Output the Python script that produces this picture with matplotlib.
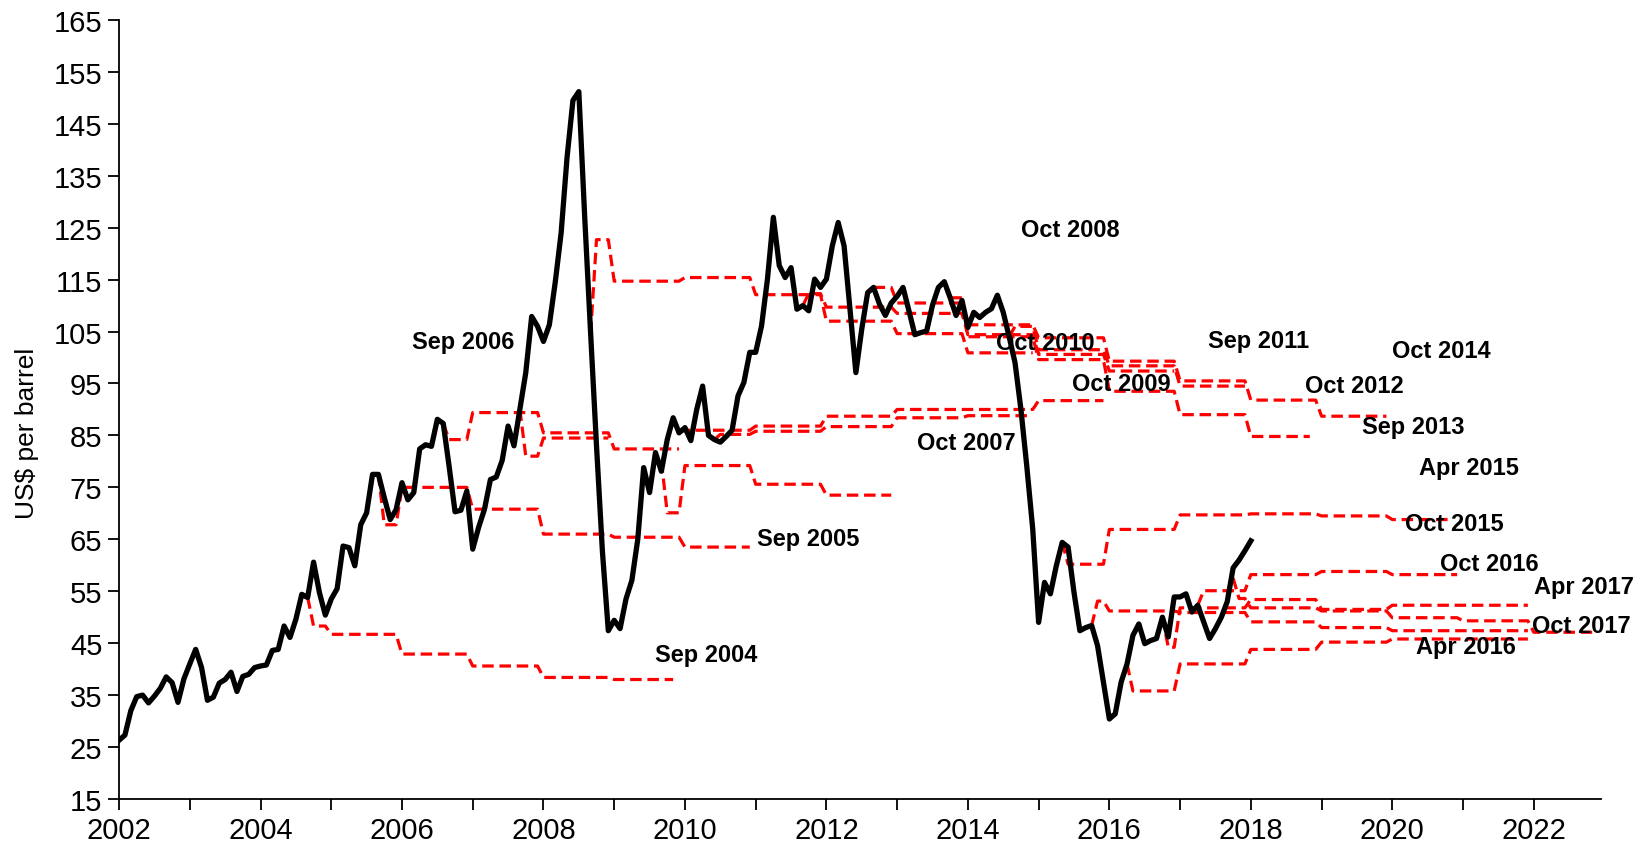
import matplotlib
matplotlib.use("Agg")
import matplotlib.pyplot as plt
import numpy as np

plt.rcParams['font.family'] = ['Liberation Sans', 'DejaVu Sans']

# monthly price, Jan 2002 .. Jan 2018 (US$ per barrel)
price = [
    26.3, 27.3, 32.0, 34.7, 35.0, 33.5, 34.8, 36.3, 38.5, 37.4, 33.6, 38.1,   # 2002
    41.0, 43.8, 40.3, 34.0, 34.6, 37.3, 38.0, 39.4, 35.7, 38.6, 39.0, 40.3,   # 2003
    40.6, 40.8, 43.6, 43.8, 48.3, 46.1, 49.6, 54.4, 53.8, 60.6, 54.7, 50.4,   # 2004
    53.5, 55.5, 63.7, 63.4, 59.9, 67.8, 70.1, 77.5, 77.5, 73.0, 68.8, 70.7,   # 2005
    75.9, 72.6, 74.0, 82.4, 83.2, 82.9, 88.1, 87.3, 79.0, 70.3, 70.6, 74.3,   # 2006
    63.1, 67.3, 70.8, 76.5, 77.0, 80.2, 86.8, 83.0, 90.0, 97.1, 107.9, 106.0, # 2007
    103.1, 106.3, 114.5, 124.0, 138.5, 149.5, 151.2, 127.0, 104.7, 83.0, 62.7, 47.4,  # 2008
    49.4, 47.8, 53.5, 57.1, 65.0, 78.8, 74.0, 81.7, 78.1, 84.2, 88.4, 85.5,   # 2009
    86.5, 84.0, 90.0, 94.5, 85.0, 84.2, 83.7, 84.8, 86.0, 92.6, 95.2, 101.0,  # 2010
    101.0, 106.1, 115.1, 127.0, 117.7, 115.4, 117.3, 109.3, 110.0, 109.0, 115.1, 113.5,  # 2011
    115.1, 121.5, 126.0, 121.5, 109.3, 97.1, 105.5, 112.5, 113.5, 110.3, 108.1, 110.5,  # 2012
    111.8, 113.5, 109.0, 104.4, 104.8, 105.1, 110.1, 113.5, 114.6, 111.5, 108.1, 111.0,  # 2013
    105.8, 108.7, 107.7, 108.7, 109.4, 112.0, 108.7, 104.0, 99.0, 90.0, 79.0, 67.0,    # 2014
    49.0, 56.7, 54.5, 59.9, 64.4, 63.5, 54.8, 47.4, 48.0, 48.4, 44.5, 37.5,   # 2015
    30.4, 31.4, 37.5, 41.0, 46.5, 48.7, 44.9, 45.5, 45.9, 50.0, 46.2, 53.9,   # 2016
    53.9, 54.5, 51.0, 52.3, 49.1, 45.9, 47.8, 50.0, 53.0, 59.5, 61.0, 62.8,   # 2017
    64.7,                                                                     # 2018
]

# futures curves: start month, [spot, rest of start year, then one value per year], end month
curve_start = ["2004-09", "2005-09", "2006-08", "2007-09", "2008-09", "2009-09",
               "2009-12", "2010-06", "2011-09", "2012-09", "2013-09", "2014-08",
               "2015-05", "2015-10", "2016-04", "2016-10", "2017-04", "2017-10"]
curve_end = ["2009-11", "2010-12", "2009-12", "2008-12", "2014-12", "2012-12",
             "2015-12", "2014-12", "2016-12", "2019-12", "2018-11", "2017-12",
             "2020-11", "2021-12", "2021-12", "2021-12", "2020-12", "2022-11"]
curve_values = [
    [53.8, 48.3, 46.7, 42.9, 40.6, 38.4, 38.0],
    [77.5, 67.8, 75.0, 70.8, 66.0, 65.4, 63.5],
    [87.3, 84.2, 89.4, 85.5, 82.4],
    [90.0, 81.0, 84.5],
    [104.7, 122.7, 114.7, 115.4, 112.1, 107.0, 104.6, 100.9],
    [80.0, 70.1, 79.2, 75.6, 73.5],
    [85.5, 85.5, 86.0, 86.8, 88.7, 90.0, 90.0, 91.7],
    [84.2, 85.2, 85.8, 86.7, 88.4, 88.8],
    [110.0, 112.3, 109.7, 108.5, 104.4, 100.6, 97.4],
    [113.5, 113.5, 110.5, 106.3, 103.8, 99.3, 95.5, 91.8, 88.7],
    [114.6, 111.5, 104.0, 99.6, 93.5, 89.0, 84.8],
    [104.0, 106.0, 101.5, 98.4, 94.5],
    [64.4, 60.2, 66.9, 69.7, 69.9, 69.5, 68.8],
    [48.4, 53.1, 51.2, 50.9, 49.1, 48.0, 47.4, 47.4],
    [41.0, 35.8, 41.0, 43.8, 45.2, 45.8, 45.8],
    [50.0, 44.2, 51.8, 53.4, 51.5, 52.3, 52.3],
    [52.3, 55.1, 58.2, 58.8, 58.2],
    [57.5, 53.6, 51.8, 51.2, 49.9, 49.3, 47.1],
]

label_text = ["Sep 2004", "Sep 2005", "Sep 2006", "Oct 2007", "Oct 2008", "Oct 2009",
              "Oct 2010", "Sep 2011", "Oct 2012", "Sep 2013", "Oct 2014", "Apr 2015",
              "Oct 2015", "Apr 2016", "Oct 2016", "Apr 2017", "Oct 2017"]
label_pos = [(2009.57, 42.9), (2011.02, 65.2), (2006.14, 103.1), (2013.28, 83.6),
             (2014.75, 124.7), (2015.47, 95.0), (2014.40, 102.9), (2017.39, 103.3),
             (2018.77, 94.6), (2019.57, 86.7), (2019.99, 101.4), (2020.38, 78.8),
             (2020.18, 68.0), (2020.33, 44.4), (2020.68, 60.3), (2022.0, 55.9),
             (2021.97, 48.4)]


def ym(s):
    y, m = s.split("-")
    return int(y), int(m)


fig = plt.figure(figsize=(16.51, 8.45), dpi=100)
ax = fig.add_axes([0.0721, 0.0533, 0.8976, 0.9219])

# red futures curves
for s, e, vals in zip(curve_start, curve_end, curve_values):
    y0, m0 = ym(s)
    y1, m1 = ym(e)
    xs, ys = [], []
    y, m = y0, m0
    while (y, m) <= (y1, m1):
        if (y, m) == (y0, m0):
            v = vals[0]
        elif y == y0:
            v = vals[1]
        else:
            v = vals[min(1 + y - y0, len(vals) - 1)]
        xs.append(y + (m - 1) / 12)
        ys.append(v)
        m += 1
        if m > 12:
            y, m = y + 1, 1
    ax.plot(xs, ys, color="#ff0000", lw=2.3, ls=(0, (3.6, 1.8)), zorder=2)

# black price line
t = 2002 + np.arange(len(price)) / 12
ax.plot(t, price, color="black", lw=3.8, zorder=3)

for txt, (x, y) in zip(label_text, label_pos):
    ax.text(x, y, txt, fontsize=17, fontweight="bold", ha="left", va="center", zorder=4)

ax.set_xlim(2002, 2022.95)
ax.set_ylim(15, 165)
ax.set_yticks(np.arange(15, 166, 10))
ax.set_xticks(np.arange(2002, 2023, 1))
ax.set_xticklabels([str(y) if y % 2 == 0 else "" for y in range(2002, 2023)])
ax.tick_params(axis="both", labelsize=21, direction="out", length=8, width=1.3, pad=4)
ax.spines["top"].set_visible(False)
ax.spines["right"].set_visible(False)
ax.spines["left"].set_linewidth(1.3)
ax.spines["bottom"].set_linewidth(1.3)
ax.set_ylabel("US$ per barrel", fontsize=19)
ax.yaxis.set_label_coords(-0.054, 0.47)

fig.savefig("out.png", dpi=100)
